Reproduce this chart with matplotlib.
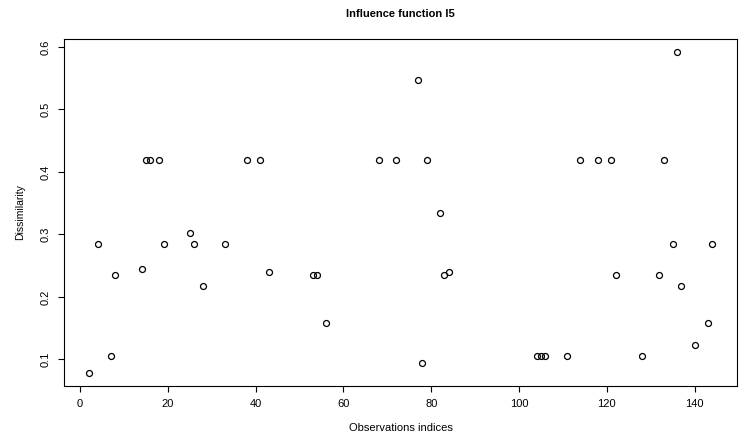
import matplotlib
matplotlib.use("Agg")
import matplotlib.pyplot as plt

plt.rcParams['font.family'] = ['Liberation Sans', 'DejaVu Sans']

# observation index and dissimilarity
obs = [2, 4, 7, 8, 14, 15, 16, 18, 19, 25, 26, 28, 33, 38, 41, 43, 53, 54, 56,
       68, 72, 77, 78, 79, 82, 83, 84, 104, 105, 106, 111, 114, 118, 121, 122,
       128, 132, 133, 135, 136, 137, 140, 143, 144]
dissim = [0.078, 0.284, 0.106, 0.235, 0.244, 0.419, 0.419, 0.419, 0.284, 0.302,
          0.284, 0.218, 0.284, 0.419, 0.419, 0.240, 0.235, 0.235, 0.159,
          0.419, 0.419, 0.547, 0.094, 0.419, 0.335, 0.235, 0.240,
          0.106, 0.106, 0.106, 0.106, 0.419, 0.419, 0.419, 0.235,
          0.106, 0.235, 0.419, 0.284, 0.592, 0.218, 0.123, 0.159, 0.284]

xticks = [0, 20, 40, 60, 80, 100, 120, 140]
yticks = [0.1, 0.2, 0.3, 0.4, 0.5, 0.6]

fig = plt.figure(figsize=(7.41, 4.34), dpi=100)
ax = fig.add_axes([0.0864, 0.1106, 0.9082, 0.7994])

ax.plot(obs, dissim, 'o', mfc='none', mec='black', ms=4.3, mew=0.9)

# R style 4% padding
xr = max(obs) - min(obs)
yr = max(dissim) - min(dissim)
ax.set_xlim(min(obs) - 0.04 * xr, max(obs) + 0.04 * xr)
ax.set_ylim(min(dissim) - 0.04 * yr, max(dissim) + 0.04 * yr)

ax.set_xticks(xticks)
ax.set_yticks(yticks)
ax.set_yticklabels([str(v) for v in yticks], rotation=90, va='center')
ax.tick_params(direction='out', length=4.5, width=0.8, labelsize=8, pad=5)
for s in ax.spines.values():
    s.set_linewidth(0.8)

ax.set_title("Influence function I5", fontsize=8, fontweight='bold', pad=16)
ax.set_xlabel("Observations indices", fontsize=8, labelpad=10)
ax.set_ylabel("Dissimilarity", fontsize=7.5, labelpad=11)

fig.savefig("out.png", dpi=100)
